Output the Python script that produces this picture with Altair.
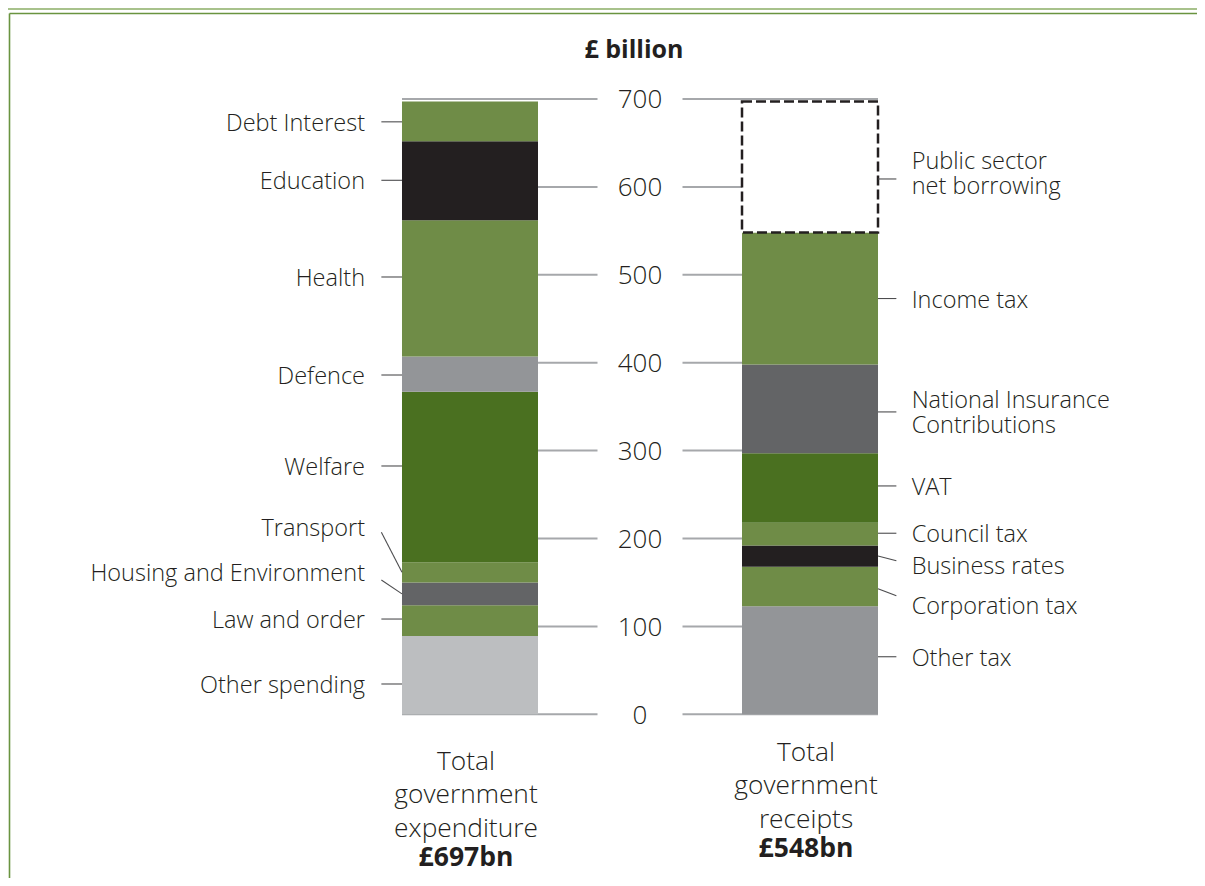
import altair as alt
import pandas as pd

# ---------------- data ----------------
EXP_CATEGORIES = ["Other spending", "Law and order", "Housing and Environment",
                  "Transport", "Welfare", "Defence", "Health", "Education",
                  "Debt Interest"]
EXP_VALUES = [89, 35, 26, 23, 194, 40, 155, 90, 45]          # £bn, bottom to top

REC_CATEGORIES = ["Other tax", "Corporation tax", "Business rates", "Council tax",
                  "VAT", "National Insurance Contributions", "Income tax",
                  "Public sector net borrowing"]
REC_VALUES = [123, 45, 24, 26, 79, 101, 150, 149]              # £bn, bottom to top

TICKS = [0, 100, 200, 300, 400, 500, 600, 700]
TITLE = "£ billion"
COLUMN_LINES = ["Total\ngovernment\nexpenditure", "Total\ngovernment\nreceipts"]
COLUMN_TOTALS = ["£697bn", "£548bn"]

# ---------------- styles ----------------
MID_GREEN = "#6F8C47"
DARK_GREEN = "#4A7020"
BLACK = "#231F20"
GREY = "#939598"
DARK_GREY = "#636466"
LIGHT_GREY = "#BCBEC0"
TEXT = "#231F20"
FONT = "Open Sans"

COLOURS = {
    "Other spending": LIGHT_GREY, "Law and order": MID_GREEN,
    "Housing and Environment": DARK_GREY, "Transport": MID_GREEN,
    "Welfare": DARK_GREEN, "Defence": GREY, "Health": MID_GREEN,
    "Education": BLACK, "Debt Interest": MID_GREEN,
    "Other tax": GREY, "Corporation tax": MID_GREEN, "Business rates": BLACK,
    "Council tax": MID_GREEN, "VAT": DARK_GREEN,
    "National Insurance Contributions": DARK_GREY, "Income tax": MID_GREEN,
}
DASHED = "Public sector net borrowing"

# label layout (in £bn on the value axis): text, text block centre, leader end near text
LEFT_LABELS = {
    "Debt Interest": ("Debt Interest", 674, 674),
    "Education": ("Education", 607.5, 607.5),
    "Health": ("Health", 497.5, 497.5),
    "Defence": ("Defence", 386, 386),
    "Welfare": ("Welfare", 282.5, 282.5),
    "Transport": ("Transport", 213.6, 207.1),
    "Housing and Environment": ("Housing and Environment", 162, 152.8),
    "Law and order": ("Law and order", 108.4, 108.4),
    "Other spending": ("Other spending", 34.5, 34.5),
}
RIGHT_LABELS = {
    "Public sector net borrowing": ("Public sector\nnet borrowing", 616.3, 609),
    "Income tax": ("Income tax", 473, 473),
    "National Insurance Contributions": ("National Insurance\nContributions", 345, 344),
    "VAT": ("VAT", 259.8, 259.8),
    "Council tax": ("Council tax", 206, 206),
    "Business rates": ("Business rates", 169.8, 174.7),
    "Corporation tax": ("Corporation tax", 124.4, 134.9),
    "Other tax": ("Other tax", 65.5, 65.5),
}
# where the leader meets the bar, when it is not level with the text
LEADER_IN = {"Transport": 161.5, "Housing and Environment": 137,
             "Business rates": 180, "Corporation tax": 142.9}

W, H = 1189, 870
HALF = 0.2            # half bar width in column units
PX_PER_BN = 0.879     # vertical pixels per £bn
LABEL_LH = 25         # line height of side labels, px

# ---------------- tables ----------------
seg_rows = []
for slot, cats, vals in [(0, EXP_CATEGORIES, EXP_VALUES), (1, REC_CATEGORIES, REC_VALUES)]:
    base = 0
    for c, v in zip(cats, vals):
        seg_rows.append({"slot": slot, "cat": c, "start": base, "end": base + v,
                         "x0": slot - HALF, "x1": slot + HALF,
                         "colour": COLOURS.get(c, "#ffffff")})
        base += v
seg = pd.DataFrame(seg_rows)
solid = seg[seg["cat"] != DASHED]
dashed = seg[seg["cat"] == DASHED]

grid_rows = []
for t in TICKS:
    grid_rows.append({"v": t, "a": -HALF, "b": 0.5 - 0.125})
    grid_rows.append({"v": t, "a": 0.5 + 0.125, "b": 1 + HALF})
grid = pd.DataFrame(grid_rows)
ticks = pd.DataFrame({"v": TICKS, "label": [str(t) for t in TICKS], "x": 0.5})

lab_rows, lead_rows = [], []
for side, labels in [("left", LEFT_LABELS), ("right", RIGHT_LABELS)]:
    for cat, (text, ty, ly) in labels.items():
        n = text.count("\n") + 1
        first = ty + (n - 1) / 2 * LABEL_LH / PX_PER_BN   # first line of the block
        lab_rows.append({"side": side, "text": text, "y": first,
                         "x": -0.3088 if side == "left" else 1.299})
        lin = LEADER_IN.get(cat, ly)
        if side == "left":
            lead_rows.append({"xa": -0.2607, "xb": -HALF, "ya": ly, "yb": lin})
        else:
            lead_rows.append({"xa": 1 + HALF, "xb": 1.254, "ya": lin, "yb": ly})
labs = pd.DataFrame(lab_rows)
leads = pd.DataFrame(lead_rows)

cols = pd.DataFrame({"x": [0, 1], "y": [-53.1, -42.6], "text": COLUMN_LINES})
totals = pd.DataFrame({"x": [0, 1], "y": [-163.5, -153.0], "text": COLUMN_TOTALS})
title = pd.DataFrame({"x": [0.5], "y": [756], "text": [TITLE]})

# ---------------- scales ----------------
XS = alt.Scale(domain=[-1.3588, 2.1382], nice=False, zero=False)
YS = alt.Scale(domain=[-186.2, 803.5], nice=False, zero=False)
X = lambda f: alt.X(f, type="quantitative", scale=XS, axis=None)
Y = lambda f: alt.Y(f, type="quantitative", scale=YS, axis=None)

one = pd.DataFrame({"a": [0]})

frame_top = alt.Chart(one).mark_rule(color="#A8C28C", strokeWidth=2).encode(
    x=alt.value(0), x2=alt.value(W), y=alt.value(1))
frame_box_top = alt.Chart(one).mark_rule(color="#6A9440", strokeWidth=1.6).encode(
    x=alt.value(1.5), x2=alt.value(W), y=alt.value(5.5))
frame_box_left = alt.Chart(one).mark_rule(color="#6A9440", strokeWidth=1.6).encode(
    x=alt.value(1.5), y=alt.value(5.5), y2=alt.value(H))

grid_layer = alt.Chart(grid).mark_rule(color="#A6A8AB", strokeWidth=2).encode(
    x=X("a"), x2="b", y=Y("v"))
bars = alt.Chart(solid).mark_rect().encode(
    x=X("x0"), x2="x1", y=Y("start"), y2="end",
    color=alt.Color("colour:N", scale=None))
box = alt.Chart(dashed).mark_rect(fill="white", stroke=BLACK, strokeWidth=2.5,
                                  strokeDash=[10, 4]).encode(
    x=X("x0"), x2="x1", y=Y("start"), y2="end")
tick_text = alt.Chart(ticks).mark_text(font=FONT, fontSize=26, fontWeight=300,
                                       color=TEXT, align="center", baseline="middle",
                                       dy=1.5).encode(
    x=X("x"), y=Y("v"), text="label")
leader = alt.Chart(leads).mark_rule(color="#4D4D4F", strokeWidth=1.1).encode(
    x=X("xa"), x2="xb", y=Y("ya"), y2="yb")
left_text = alt.Chart(labs[labs.side == "left"]).mark_text(
    font=FONT, fontSize=23.5, fontWeight=300, color=TEXT, align="right",
    baseline="middle", dy=2, lineBreak="\n", lineHeight=LABEL_LH).encode(
    x=X("x"), y=Y("y"), text="text")
right_text = alt.Chart(labs[labs.side == "right"]).mark_text(
    font=FONT, fontSize=23.5, fontWeight=300, color=TEXT, align="left",
    baseline="middle", dy=2, lineBreak="\n", lineHeight=LABEL_LH).encode(
    x=X("x"), y=Y("y"), text="text")
col_text = alt.Chart(cols).mark_text(
    font=FONT, fontSize=26.3, fontWeight=300, color=TEXT, align="center",
    baseline="top", dx=-4, dy=-12, lineBreak="\n", lineHeight=33.5).encode(
    x=X("x"), y=Y("y"), text="text")
col_total = alt.Chart(totals).mark_text(
    font=FONT, fontSize=26.5, fontWeight="bold", color=TEXT, align="center",
    baseline="middle", dx=-4).encode(x=X("x"), y=Y("y"), text="text")
title_text = alt.Chart(title).mark_text(
    font=FONT, fontSize=25, fontWeight="bold", color=TEXT, align="center",
    baseline="middle", dx=-6).encode(x=X("x"), y=Y("y"), text="text")

chart = alt.layer(
    frame_top, frame_box_top, frame_box_left, grid_layer, bars, box, tick_text,
    leader, left_text, right_text, col_text, col_total, title_text
).properties(
    width=W, height=H, padding=0, autosize=alt.AutoSizeParams(type="none")
).configure_view(strokeWidth=0)

chart.save("out.html", embed_options={"renderer": "svg", "actions": False})
